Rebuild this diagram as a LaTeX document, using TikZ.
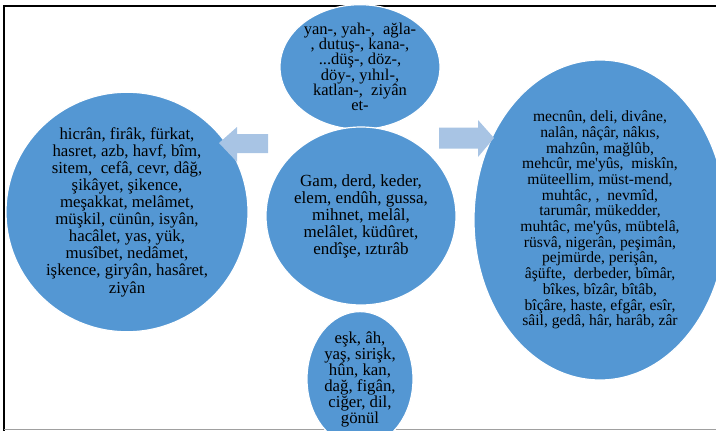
\documentclass[tikz,border=0pt]{standalone}
\usepackage{fontspec}
\setmainfont{Liberation Serif}[Ligatures=TeXOff]
\usetikzlibrary{shapes.geometric}
\definecolor{blobblue}{RGB}{84,151,211}
\definecolor{arrowblue}{RGB}{168,196,228}
\definecolor{framegray}{RGB}{160,160,160}
\tikzset{
  blob/.style={ellipse, fill=blobblue, draw=white, line width=1.2pt, inner sep=0pt, align=center, text=black},
  blockarrow/.style={fill=arrowblue, draw=none},
}
\begin{document}
\begin{tikzpicture}[x=1pt,y=-1pt]
\useasboundingbox (0,0) rectangle (716,431);
\begin{scope}
\clip (0,0) rectangle (716,431);
% frame lines
\draw[black, line width=2.2pt] (3,6) -- (716,6);
\draw[black, line width=2.2pt] (4,5) -- (4,431);
\draw[framegray, line width=1.5pt] (4,429.5) -- (716,429.5);
% ellipses
\node[blob, minimum width=160pt, minimum height=120pt, font=\fontsize{16.5}{15.3}\selectfont] (top) at (360,67)
  {yan-, yah-,\ \ ağla-\\, dutuş-, kana-,\\...düş-, döz-,\\döy-, yıhıl-,\\katlan-,\ \ ziyân\\et-};
\node[blob, minimum width=190pt, minimum height=178pt, font=\fontsize{17}{17}\selectfont] (center) at (361,216)
  {Gam, derd, keder,\\elem, endûh, gussa,\\mihnet, melâl,\\melâlet, küdûret,\\endîşe, ıztırâb};
\node[blob, minimum width=242pt, minimum height=202pt, font=\fontsize{16.8}{17.1}\selectfont] (left) at (127,212)
  {hicrân, firâk, fürkat,\\hasret, azb, havf, bîm,\\sitem,\ \ cefâ, cevr, dâğ,\\şikâyet, şikence,\\meşakkat, melâmet,\\müşkil, cünûn, isyân,\\hacâlet, yas, yük,\\musîbet, nedâmet,\\işkence, giryân, hasâret,\\ziyân};
\node[blob, minimum width=252pt, minimum height=320pt, font=\fontsize{15.6}{15.7}\selectfont] (right) at (600,220)
  {mecnûn, deli, divâne,\\nalân, nâçâr, nâkıs,\\mahzûn, mağlûb,\\mehcûr, me'yûs,\ \ miskîn,\\müteellim, müst-mend,\\muhtâc, ,\ \ nevmîd,\\tarumâr, mükedder,\\muhtâc, me'yûs, mübtelâ,\\rüsvâ, nigerân, peşimân,\\pejmürde, perişân,\\âşüfte,\ \ derbeder, bîmâr,\\bîkes, bîzâr, bîtâb,\\bîçâre, haste, efgâr, esîr,\\sâil, gedâ, hâr, harâb, zâr};
\node[blob, minimum width=106pt, minimum height=118pt, font=\fontsize{16.8}{16}\selectfont] (bottom) at (360,379)
  {eşk, âh,\\yaş, sirişk,\\hûn, kan,\\dağ, figân,\\ciğer, dil,\\gönül};
% block arrows
\fill[blockarrow] (219,143) -- (237,127) -- (237,134) -- (268,134) -- (268,153) -- (237,153) -- (237,162) -- cycle;
\fill[blockarrow] (494,138) -- (478,120) -- (478,127.5) -- (439,127.5) -- (439,148.5) -- (478,148.5) -- (478,157) -- cycle;
\end{scope}
\end{tikzpicture}
\end{document}
